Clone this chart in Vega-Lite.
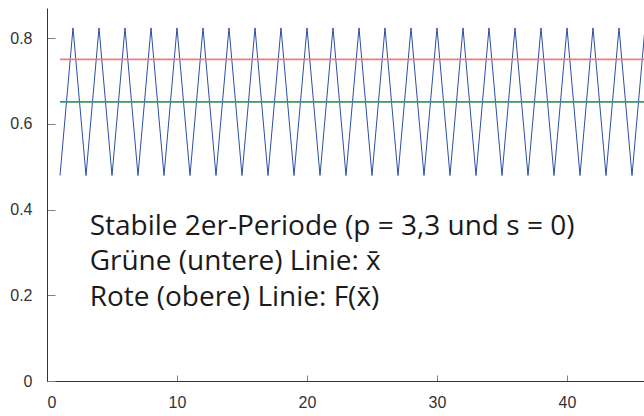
{
  "$schema": "https://vega.github.io/schema/vega-lite/v6.json",
  "autosize": "none",
  "width": 598,
  "height": 373,
  "padding": {"left": 47, "top": 8, "right": 0, "bottom": 35},
  "background": "white",
  "config": {
    "view": {"stroke": null},
    "axis": {"grid": false, "labelFont": "Liberation Sans", "labelFontSize": 16, "labelColor": "#333333", "domainColor": "#333333", "tickColor": "#808080", "title": null}
  },
  "datasets": {
    "series": [
      {"x": 1, "y": 0.4794, "s": "blue"}, {"x": 2, "y": 0.8236, "s": "blue"},
      {"x": 3, "y": 0.4794, "s": "blue"}, {"x": 4, "y": 0.8236, "s": "blue"},
      {"x": 5, "y": 0.4794, "s": "blue"}, {"x": 6, "y": 0.8236, "s": "blue"},
      {"x": 7, "y": 0.4794, "s": "blue"}, {"x": 8, "y": 0.8236, "s": "blue"},
      {"x": 9, "y": 0.4794, "s": "blue"}, {"x": 10, "y": 0.8236, "s": "blue"},
      {"x": 11, "y": 0.4794, "s": "blue"}, {"x": 12, "y": 0.8236, "s": "blue"},
      {"x": 13, "y": 0.4794, "s": "blue"}, {"x": 14, "y": 0.8236, "s": "blue"},
      {"x": 15, "y": 0.4794, "s": "blue"}, {"x": 16, "y": 0.8236, "s": "blue"},
      {"x": 17, "y": 0.4794, "s": "blue"}, {"x": 18, "y": 0.8236, "s": "blue"},
      {"x": 19, "y": 0.4794, "s": "blue"}, {"x": 20, "y": 0.8236, "s": "blue"},
      {"x": 21, "y": 0.4794, "s": "blue"}, {"x": 22, "y": 0.8236, "s": "blue"},
      {"x": 23, "y": 0.4794, "s": "blue"}, {"x": 24, "y": 0.8236, "s": "blue"},
      {"x": 25, "y": 0.4794, "s": "blue"}, {"x": 26, "y": 0.8236, "s": "blue"},
      {"x": 27, "y": 0.4794, "s": "blue"}, {"x": 28, "y": 0.8236, "s": "blue"},
      {"x": 29, "y": 0.4794, "s": "blue"}, {"x": 30, "y": 0.8236, "s": "blue"},
      {"x": 31, "y": 0.4794, "s": "blue"}, {"x": 32, "y": 0.8236, "s": "blue"},
      {"x": 33, "y": 0.4794, "s": "blue"}, {"x": 34, "y": 0.8236, "s": "blue"},
      {"x": 35, "y": 0.4794, "s": "blue"}, {"x": 36, "y": 0.8236, "s": "blue"},
      {"x": 37, "y": 0.4794, "s": "blue"}, {"x": 38, "y": 0.8236, "s": "blue"},
      {"x": 39, "y": 0.4794, "s": "blue"}, {"x": 40, "y": 0.8236, "s": "blue"},
      {"x": 41, "y": 0.4794, "s": "blue"}, {"x": 42, "y": 0.8236, "s": "blue"},
      {"x": 43, "y": 0.4794, "s": "blue"}, {"x": 44, "y": 0.8236, "s": "blue"},
      {"x": 45, "y": 0.4794, "s": "blue"}, {"x": 46, "y": 0.8236, "s": "blue"},
      {"x": 1, "y": 0.75, "s": "red"}, {"x": 46, "y": 0.75, "s": "red"},
      {"x": 1, "y": 0.651, "s": "green"}, {"x": 46, "y": 0.651, "s": "green"}
    ],
    "notes": [
      {"x": 3.28, "y": 0.341, "t": "Stabile 2er-Periode (p = 3,3 und s = 0)"},
      {"x": 3.28, "y": 0.258, "t": "Grüne (untere) Linie: x̄"},
      {"x": 3.28, "y": 0.174, "t": "Rote (obere) Linie: F(x̄)"}
    ]
  },
  "layer": [
    {
      "data": {"name": "series"},
      "transform": [{"filter": "datum.s === 'blue'"}],
      "mark": {"type": "line", "strokeWidth": 1, "color": "#2b4ea3"},
      "encoding": {
        "x": {"field": "x", "type": "quantitative", "scale": {"domain": [0, 46], "nice": false, "zero": true},
              "axis": {"values": [0, 10, 20, 30, 40], "tickSize": -6, "labelPadding": 19}},
        "y": {"field": "y", "type": "quantitative", "scale": {"domain": [0, 0.87], "nice": false},
              "axis": {"values": [0, 0.2, 0.4, 0.6, 0.8], "format": ".1~f", "tickSize": -8, "labelPadding": 23}}
      }
    },
    {
      "data": {"name": "series"},
      "transform": [{"filter": "datum.s !== 'blue'"}],
      "mark": {"type": "line", "strokeWidth": 1.8},
      "encoding": {
        "x": {"field": "x", "type": "quantitative"},
        "y": {"field": "y", "type": "quantitative"},
        "detail": {"field": "s"},
        "color": {"field": "s", "type": "nominal", "scale": {"domain": ["red", "green"], "range": ["#ef7f7f", "#3a9a5c"]}, "legend": null}
      }
    },
    {
      "data": {"name": "notes"},
      "mark": {"type": "text", "align": "left", "baseline": "alphabetic", "font": "Open Sans", "fontSize": 28, "color": "#1a1a1a"},
      "encoding": {
        "x": {"field": "x", "type": "quantitative"},
        "y": {"field": "y", "type": "quantitative"},
        "text": {"field": "t"}
      }
    }
  ]
}
